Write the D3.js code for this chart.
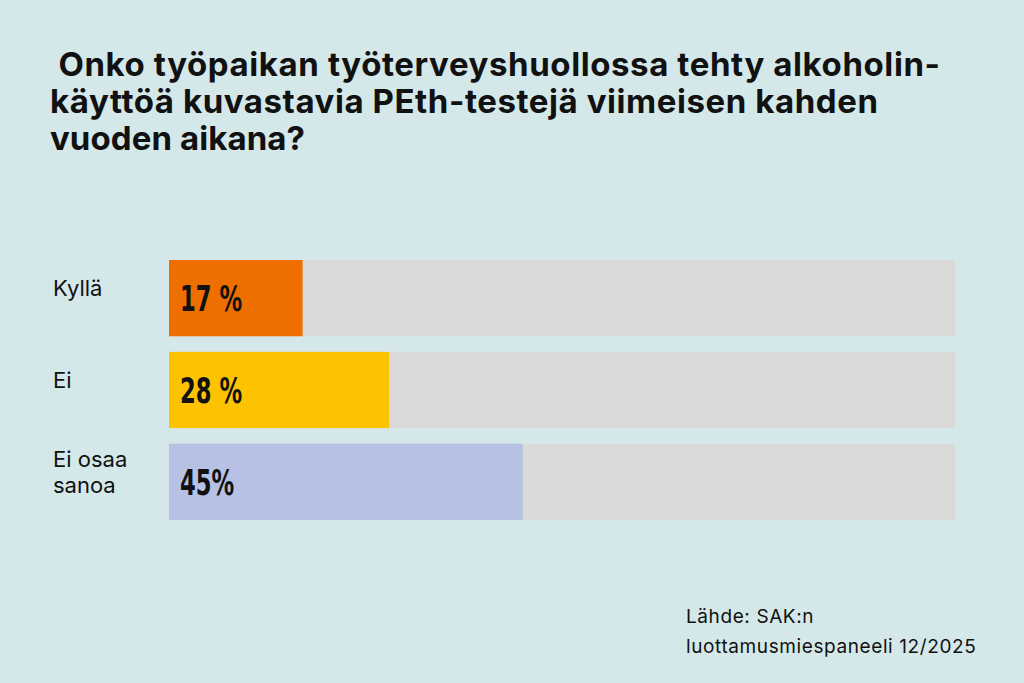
<!DOCTYPE html>
<html>
<head>
<meta charset="utf-8">
<script src="https://cdn.jsdelivr.net/npm/d3@7"></script>
<style>
  body { margin: 0; background: #d4e8e9; }
  svg { display: block; }
</style>
</head>
<body>
<svg id="container" width="1024" height="683"></svg>
<script>
const categories = [["Kyllä"], ["Ei"], ["Ei osaa", "sanoa"]];
const values = [17, 28, 45];
const valueLabels = ["17 %", "28 %", "45%"];
const colors = ["#ee6f00", "#fdc300", "#b7c1e3"];
const titleLines = [" Onko työpaikan työterveyshuollossa tehty alkoholin-",
  "käyttöä kuvastavia PEth-testejä viimeisen kahden", "vuoden aikana?"];
const sourceLines = ["Lähde: SAK:n", "luottamusmiespaneeli 12/2025"];

const svg = d3.select("#container");
svg.append("rect").attr("width", 1024).attr("height", 683).attr("fill", "#d4e8e9");

svg.append("g").selectAll("text").data(titleLines).enter().append("text")
  .attr("x", 50).attr("y", (d, i) => 76 + i * 37)
  .attr("font-family", "Inter, 'Open Sans', sans-serif")
  .attr("font-weight", 700).attr("font-size", 33).attr("fill", "#111")
  .attr("textLength", (d, i) => [890, 828, 255][i])
  .style("white-space", "pre")
  .text(d => d);

const x = d3.scaleLinear().domain([0, 100]).range([169, 955]);
const y = d3.scaleBand().domain(d3.range(values.length)).range([260, 520]).paddingInner(0.17);

const rows = svg.append("g").selectAll("g").data(values).enter().append("g");
rows.append("rect").attr("x", x(0)).attr("y", (d, i) => y(i))
  .attr("width", x(100) - x(0)).attr("height", y.bandwidth()).attr("fill", "#d9d9d9");
rows.append("rect").attr("x", x(0)).attr("y", (d, i) => y(i))
  .attr("width", d => x(d) - x(0)).attr("height", y.bandwidth())
  .attr("fill", (d, i) => colors[i]);
rows.append("text")
  .attr("transform", (d, i) => `translate(${x(0) + 11},${y(i) + y.bandwidth() / 2 + 13}) scale(0.72,1)`)
  .attr("font-family", "'DejaVu Sans Condensed', 'DejaVu Sans', sans-serif")
  .attr("font-weight", 700).attr("font-size", 35).attr("fill", "#111")
  .text((d, i) => valueLabels[i]);
rows.each(function (d, i) {
  const lines = categories[i];
  d3.select(this).selectAll(".cat").data(lines).enter().append("text")
    .attr("x", 53)
    .attr("y", (l, j) => y(i) + y.bandwidth() / 2 + 6 - (lines.length - 1) * 13 + j * 26 - 8)
    .attr("font-family", "Inter, 'Open Sans', sans-serif")
    .attr("font-size", 22).attr("fill", "#111")
    .text(l => l);
});

svg.append("g").selectAll("text").data(sourceLines).enter().append("text")
  .attr("x", 686).attr("y", (d, i) => 623 + i * 30)
  .attr("font-family", "Inter, 'Open Sans', sans-serif")
  .attr("font-size", 19).attr("fill", "#111").attr("letter-spacing", 0.6)
  .text(d => d);
</script>
</body>
</html>
